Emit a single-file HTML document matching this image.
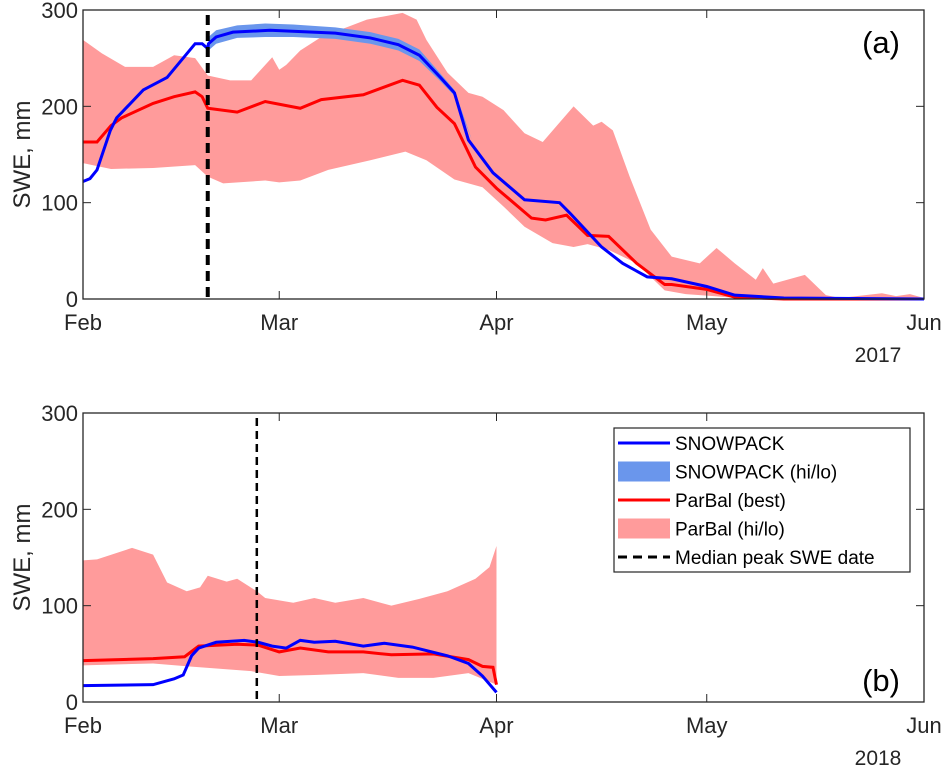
<!DOCTYPE html>
<html><head><meta charset="utf-8"><style>
body{margin:0;background:#fff;width:944px;height:771px;overflow:hidden}
svg{display:block;font-family:"Liberation Sans",Arial,sans-serif}
</style></head><body>
<svg id="c" width="944" height="771"></svg>
<script>
const monthLabels=["Feb","Mar","Apr","May","Jun"];
const monthDays=[0,28,59,89,120];
const yTicks=[0,100,200,300];
// Panel a (2017)
const aSnowDays=[0,1,2,3.9,4.8,8.6,12,16,17,17.8,17.9,19,21.4,26.7,36,41,45,48,51,53,55,58.5,63,68,69.5,74,77,80.5,84,89,93,100,120];
const aSnowVals=[122,125,134,175,188,217,230,265,265,260,265,272,277,279,276,271,264,253,230,214,165,131,103,100,89,54,37,23,21,13,4,1,0];
const aSnowBandDays=[17.9,19,22,26,30,36,41,45,48,51,53,55.5];
const aSnowHi=[272,279,284,286,285,282,277,270,259,234,217,165];
const aSnowLo=[258,265,271,272,272,270,265,258,247,226,211,165];
const aParDays=[0,2,4,5.5,10,13,16,17,17.8,22,26,31,34,40,45.6,48,50.5,53,56,59,64,66,69,72,75,79,83,84,89,93,100,120];
const aParVals=[163,163,180,188,203,210,215,210,198,194,205,198,207,212,227,222,199,182,137,115,84,82,87,66,65,37,15,15,10,2,0,0];
const aHiDays=[0,2.7,6,10,13,16,17.8,21,24,27,28,29,31,34,40.5,45.6,47.6,49,52,55,57,60,63,65.6,70,72.8,74,75.6,78,81,84,88,90.4,93,96,97,98.5,103,106,108,114,116,118,120];
const aHiVals=[269,255,241,241,253,250,232,227,227,251,238,243,258,272,290,297,290,269,235,214,210,196,172,163,200,180,184,175,127,72,44,37,53,37,20,32,16,25,4,1,6,3,5,1];
const aLoDays=[0,4,10,16,17.8,20,26,28,31,35,41,46,49,53,57,60,63,67,70,72,75,79,83,86,90,95,120];
const aLoVals=[141,135,136,139,127,120,123,121,123,134,144,153,144,124,116,96,75,58,54,57,51,37,9,5,3,0,0];
const aPeak=17.8;
// Panel b (2018)
const bSnowDays=[0,10,13,14.3,15.5,16.5,19,23,25,27,29,31,33,36,40,43,47,52,55,57,59];
const bSnowVals=[17,18,24,28,48,56,62,64,62,58,56,64,62,63,58,61,57,48,40,27,10];
const bParDays=[0,10,14.5,16.5,22,25,28,31,35,40,44,50,55,57,58.5,59];
const bParVals=[43,45,47,58,60,59,52,56,52,52,49,50,44,37,36,18];
const bHiDays=[0,2,7,10,12,14.8,16.7,17.8,20.5,22,24.8,26,30,33,36,40,44,48,52,56,58,59];
const bHiVals=[147,148,160,153,124,115,119,131,125,128,115,108,103,108,103,108,100,107,115,128,140,162];
const bLoDays=[0,10,15,24,28,33,40,45,50,55,59];
const bLoVals=[38,40,37,32,27,28,30,25,25,30,18];
const bPeak=24.8;

const NS="http://www.w3.org/2000/svg";
const svg=document.getElementById('c');
function mk(tag,attrs,parent){const e=document.createElementNS(NS,tag);for(const k in attrs)e.setAttribute(k,attrs[k]);(parent||svg).appendChild(e);return e;}
const X0=83,X1=924;
function xs(d){return X0+(d/120)*(X1-X0);}
function panel(top,bot,name,label,year,snowD,snowV,bandD,bandHi,bandLo,parD,parV,hiD,hiV,loD,loV,peak){
  const ys=v=>bot-(v/300)*(bot-top);
  const g=mk('g',{});
  
  
  let d='M'+hiD.map((t,i)=>xs(t)+','+ys(hiV[i])).join('L');
  for(let i=loD.length-1;i>=0;i--)d+='L'+xs(loD[i])+','+ys(loV[i]);
  const pb=mk('path',{d:d+'Z',fill:'#ff9b9b',stroke:'none'},g);
  
  
  if(bandD){
    let d2='M'+bandD.map((t,i)=>xs(t)+','+ys(bandHi[i])).join('L');
    for(let i=bandD.length-1;i>=0;i--)d2+='L'+xs(bandD[i])+','+ys(bandLo[i]);
    const sb=mk('path',{d:d2+'Z',fill:'#6a96ec',stroke:'none'},g);
    
    
  }
  const pl=mk('polyline',{points:parD.map((t,i)=>xs(t)+','+ys(parV[i])).join(' '),fill:'none',stroke:'#ff0000','stroke-width':3},g);
  
  
  const sl=mk('polyline',{points:snowD.map((t,i)=>xs(t)+','+ys(snowV[i])).join(' '),fill:'none',stroke:'#0000ff','stroke-width':3},g);
  
  
  const pk=mk('line',{x1:xs(peak),x2:xs(peak),y1:top+5,y2:bot,stroke:'#000','stroke-width':label==='(a)'?4:2.5,'stroke-dasharray':label==='(a)'?'10,6':'8,5'},g);
  
  
  const box=mk('rect',{x:X0,y:top,width:X1-X0,height:bot-top,fill:'none',stroke:'#262626','stroke-width':1.3},g);
  
  
  monthDays.forEach((m,i)=>{
    const x=xs(m);
    mk('line',{x1:x,x2:x,y1:bot,y2:bot-8,stroke:'#262626'},g);
    mk('line',{x1:x,x2:x,y1:top,y2:top+8,stroke:'#262626'},g);
    const t=mk('text',{x:x,y:bot+31,'text-anchor':'middle','font-size':22,fill:'#262626'},g);
    t.textContent=monthLabels[i];
    
    
  });
  yTicks.forEach(v=>{
    const y=ys(v);
    mk('line',{x1:X0,x2:X0+8,y1:y,y2:y,stroke:'#262626'},g);
    mk('line',{x1:X1,x2:X1-8,y1:y,y2:y,stroke:'#262626'},g);
    const t=mk('text',{x:X0-5,y:y+8,'text-anchor':'end','font-size':22,fill:'#262626'},g);
    t.textContent=v;
    
    
  });
  const yl=mk('text',{x:0,y:0,transform:`translate(30,${(top+bot)/2}) rotate(-90)`,'text-anchor':'middle','font-size':24,fill:'#262626'},g);
  yl.textContent='SWE, mm';
  
  
  const yr=mk('text',{x:878,y:bot+63,'text-anchor':'middle','font-size':21,fill:'#262626'},g);
  yr.textContent=year;
  
  
  const pl2=mk('text',{x:900,y:label==='(a)'?top+43:bot-11,'text-anchor':'end','font-size':31,fill:'#000'},g);
  pl2.textContent=label;
  
  
}
panel(10,299,'panel-a-2017','(a)','2017',aSnowDays,aSnowVals,aSnowBandDays,aSnowHi,aSnowLo,aParDays,aParVals,aHiDays,aHiVals,aLoDays,aLoVals,aPeak);
panel(413,702,'panel-b-2018','(b)','2018',bSnowDays,bSnowVals,null,null,null,bParDays,bParVals,bHiDays,bHiVals,bLoDays,bLoVals,bPeak);
const lg=mk('g',{});


mk('rect',{x:614,y:428,width:296,height:144,fill:'#fff',stroke:'#262626','stroke-width':1.2},lg);
const entries=[['SNOWPACK','line','#0000ff'],['SNOWPACK (hi/lo)','patch','#6a96ec'],['ParBal (best)','line','#ff0000'],['ParBal (hi/lo)','patch','#ff9b9b'],['Median peak SWE date','dash','#000']];
entries.forEach((e,i)=>{
  const cy=443+i*28.5;
  const eg=mk('g',{},lg);
  
  
  if(e[1]==='line')mk('line',{x1:618,x2:670,y1:cy,y2:cy,stroke:e[2],'stroke-width':3},eg);
  else if(e[1]==='patch')mk('rect',{x:618,y:cy-10,width:52,height:20,fill:e[2]},eg);
  else mk('line',{x1:618,x2:670,y1:cy,y2:cy,stroke:'#000','stroke-width':3,'stroke-dasharray':'9,6'},eg);
  const t=mk('text',{x:675,y:cy+7,'font-size':19,fill:'#000'},eg);
  t.textContent=e[0];
});
</script>
</body></html>
